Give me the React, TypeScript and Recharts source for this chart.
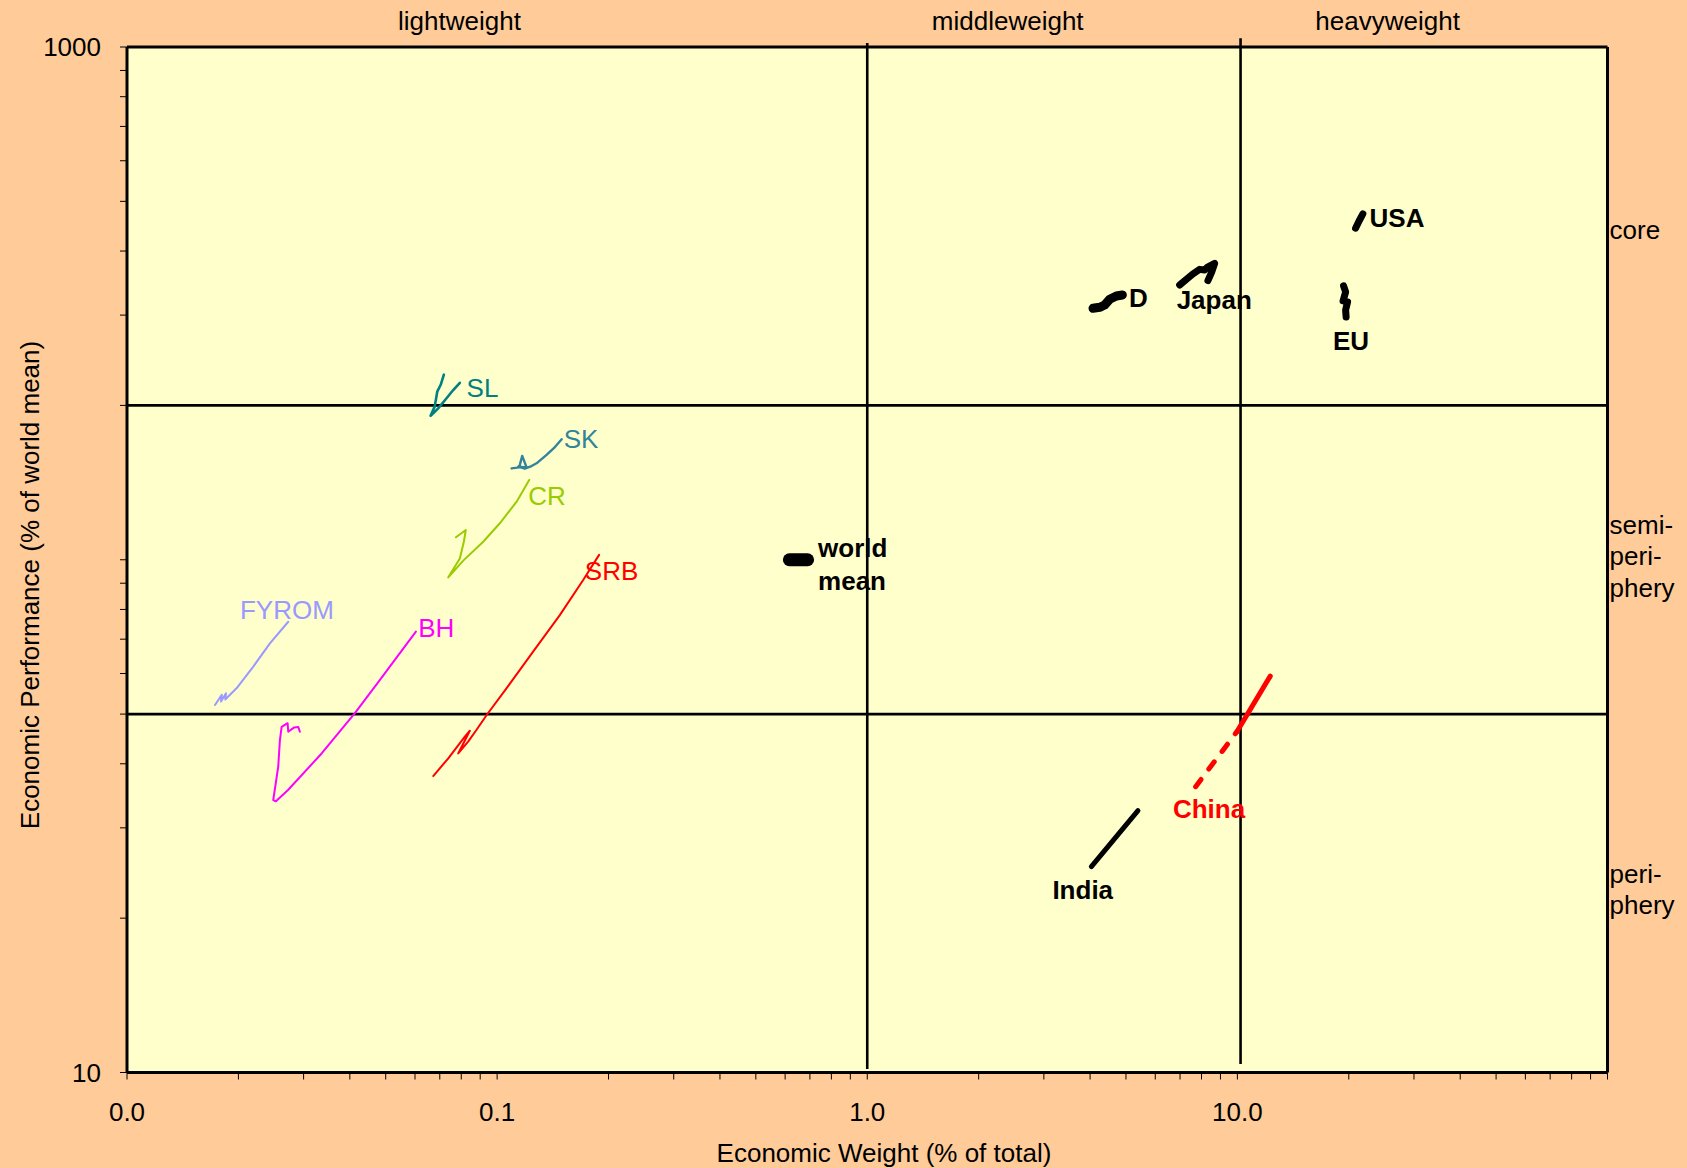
import React from 'react';
import {
  ScatterChart,
  Scatter,
  XAxis,
  YAxis,
  CartesianGrid,
  ReferenceLine,
  ReferenceDot,
} from 'recharts';

const FONT = '"Liberation Sans", Arial, Helvetica, sans-serif';

// ---- axis ticks ----
const xTicks = [
  0.01, 0.02, 0.03, 0.04, 0.05, 0.06, 0.07, 0.08, 0.09,
  0.1, 0.2, 0.3, 0.4, 0.5, 0.6, 0.7, 0.8, 0.9,
  1, 2, 3, 4, 5, 6, 7, 8, 9,
  10, 20, 30, 40, 50, 60, 70, 80, 90, 100,
];
const yTicks = [
  10, 20, 30, 40, 50, 60, 70, 80, 90,
  100, 200, 300, 400, 500, 600, 700, 800, 900, 1000,
];
const xTickValues = [0.01, 0.1, 1, 10];
const xTickTexts = ['0.0', '0.1', '1.0', '10.0'];
const yTickValues = [10, 1000];
const yTickTexts = ['10', '1000'];

// ---- trajectories: x = economic weight (% of total), y = performance (% of world mean) ----
const SL = [
  { x: 0.0718, y: 229.6 }, { x: 0.0704, y: 219.4 }, { x: 0.0689, y: 212.7 },
  { x: 0.0683, y: 204.9 }, { x: 0.0678, y: 198.9 }, { x: 0.0661, y: 190.9 },
  { x: 0.0672, y: 193.0 }, { x: 0.0693, y: 197.4 }, { x: 0.073, y: 206.5 },
  { x: 0.0761, y: 214.3 }, { x: 0.0793, y: 221.4 },
];
const SK = [
  { x: 0.1094, y: 150.7 }, { x: 0.1147, y: 151.4 }, { x: 0.1169, y: 159.4 },
  { x: 0.1201, y: 151.4 }, { x: 0.114, y: 151.9 }, { x: 0.1188, y: 150.5 },
  { x: 0.1239, y: 152.3 }, { x: 0.1278, y: 154.2 }, { x: 0.136, y: 160.1 },
  { x: 0.1423, y: 165.0 }, { x: 0.1494, y: 171.8 },
];
const CR = [
  { x: 0.0774, y: 110.6 }, { x: 0.0823, y: 114.3 }, { x: 0.0813, y: 108.4 },
  { x: 0.0793, y: 100.6 }, { x: 0.0738, y: 92.4 }, { x: 0.081, y: 99.6 },
  { x: 0.0917, y: 108.4 }, { x: 0.1017, y: 117.8 }, { x: 0.1129, y: 129.8 },
  { x: 0.1221, y: 143.1 },
];
const SRB = [
  { x: 0.0672, y: 37.86 }, { x: 0.0738, y: 41.0 }, { x: 0.0818, y: 45.2 },
  { x: 0.0844, y: 46.4 }, { x: 0.0785, y: 41.9 }, { x: 0.0835, y: 44.2 },
  { x: 0.088, y: 46.6 }, { x: 0.0937, y: 49.8 }, { x: 0.1061, y: 56.2 },
  { x: 0.1251, y: 66.2 }, { x: 0.1477, y: 78.0 }, { x: 0.1708, y: 91.3 },
  { x: 0.1886, y: 102.2 },
];
const FYROM = [
  { x: 0.01729, y: 52.1 }, { x: 0.01803, y: 54.5 }, { x: 0.01795, y: 52.9 },
  { x: 0.01851, y: 54.9 }, { x: 0.01843, y: 53.4 }, { x: 0.01979, y: 56.2 },
  { x: 0.02194, y: 61.9 }, { x: 0.02433, y: 68.7 }, { x: 0.02727, y: 75.7 },
];
const BH = [
  { x: 0.02932, y: 46.2 }, { x: 0.02902, y: 47.2 }, { x: 0.0283, y: 47.1 },
  { x: 0.02727, y: 46.2 }, { x: 0.02716, y: 48.0 }, { x: 0.02617, y: 47.2 },
  { x: 0.02589, y: 44.5 }, { x: 0.02562, y: 39.5 }, { x: 0.02484, y: 34.0 },
  { x: 0.02526, y: 33.8 }, { x: 0.02727, y: 35.6 }, { x: 0.03356, y: 41.9 },
  { x: 0.04128, y: 50.2 }, { x: 0.04824, y: 58.3 }, { x: 0.06033, y: 72.4 },
];
const D = [
  { x: 4.073, y: 309.3 }, { x: 4.246, y: 310.7 }, { x: 4.38, y: 313.9 },
  { x: 4.519, y: 322.1 }, { x: 4.711, y: 326.9 }, { x: 4.89, y: 328.4 },
];
const JAPAN = [
  { x: 6.983, y: 343.5 }, { x: 7.571, y: 360.7 }, { x: 7.907, y: 368.4 },
  { x: 8.156, y: 367.3 }, { x: 8.31, y: 372.3 }, { x: 8.683, y: 378.6 },
  { x: 8.522, y: 364.0 }, { x: 8.326, y: 350.2 },
];
const USA = [{ x: 20.86, y: 443.2 }, { x: 21.32, y: 457.8 }, { x: 21.83, y: 472.5 }];
const EU = [
  { x: 19.36, y: 342.0 }, { x: 19.61, y: 332.9 }, { x: 19.3, y: 319.7 },
  { x: 19.85, y: 318.3 }, { x: 19.61, y: 306.9 }, { x: 19.67, y: 297.4 },
];
const WORLD = [{ x: 0.616, y: 100 }, { x: 0.69, y: 100 }];
const INDIA = [{ x: 4.032, y: 25.2 }, { x: 5.387, y: 32.4 }];
const CHINA_DASHED = [{ x: 7.713, y: 36.1 }, { x: 9.97, y: 46.2 }];
const CHINA_SOLID = [{ x: 9.97, y: 46.2 }, { x: 12.27, y: 59.3 }];

const series = [
  { name: 'FYROM', data: FYROM, color: '#9999FF', width: 2 },
  { name: 'BH', data: BH, color: '#FF00FF', width: 2 },
  { name: 'SRB', data: SRB, color: '#FF0000', width: 2 },
  { name: 'CR', data: CR, color: '#99CC00', width: 2 },
  { name: 'SK', data: SK, color: '#31849B', width: 2.4 },
  { name: 'SL', data: SL, color: '#008080', width: 2.6 },
  { name: 'world', data: WORLD, color: '#000000', width: 13 },
  { name: 'D', data: D, color: '#000000', width: 9 },
  { name: 'Japan', data: JAPAN, color: '#000000', width: 7 },
  { name: 'USA', data: USA, color: '#000000', width: 7 },
  { name: 'EU', data: EU, color: '#000000', width: 7 },
  { name: 'India', data: INDIA, color: '#000000', width: 5 },
  { name: 'ChinaDashed', data: CHINA_DASHED, color: '#FF0000', width: 5, dash: '9 13' },
  { name: 'ChinaSolid', data: CHINA_SOLID, color: '#FF0000', width: 5 },
];

// ---- text annotations (anchored at data coordinates) ----
const labels = [
  { text: 'SL', x: 0.0827, y: 208.0, color: '#008080', bold: false, anchor: 'start' },
  { text: 'SK', x: 0.1514, y: 165.0, color: '#31849B', bold: false, anchor: 'start' },
  { text: 'CR', x: 0.1213, y: 127.9, color: '#99CC00', bold: false, anchor: 'start' },
  { text: 'SRB', x: 0.1726, y: 91.3, color: '#FF0000', bold: false, anchor: 'start' },
  { text: 'FYROM', x: 0.02019, y: 76.5, color: '#9999FF', bold: false, anchor: 'start' },
  { text: 'BH', x: 0.0612, y: 70.6, color: '#FF00FF', bold: false, anchor: 'start' },
  { text: 'D', x: 5.094, y: 310.5, color: '#000000', bold: true, anchor: 'start' },
  { text: 'Japan', x: 6.853, y: 308.5, color: '#000000', bold: true, anchor: 'start' },
  { text: 'USA', x: 22.76, y: 445.6, color: '#000000', bold: true, anchor: 'start' },
  { text: 'EU', x: 18.12, y: 256.6, color: '#000000', bold: true, anchor: 'start' },
  { text: 'world', x: 0.7364, y: 101.1, color: '#000000', bold: true, anchor: 'start' },
  { text: 'mean', x: 0.7364, y: 87.3, color: '#000000', bold: true, anchor: 'start' },
  { text: 'India', x: 3.164, y: 21.77, color: '#000000', bold: true, anchor: 'start' },
  { text: 'China', x: 6.698, y: 31.3, color: '#FF0000', bold: true, anchor: 'start' },
  // weight classes (top)
  { text: 'lightweight', x: 0.0791, y: 1079, color: '#000000', bold: false, anchor: 'middle' },
  { text: 'middleweight', x: 2.396, y: 1079, color: '#000000', bold: false, anchor: 'middle' },
  { text: 'heavyweight', x: 25.46, y: 1079, color: '#000000', bold: false, anchor: 'middle' },
  // world-system zones (right)
  { text: 'core', x: 101.3, y: 422.3, color: '#000000', bold: false, anchor: 'start' },
  { text: 'semi-', x: 101.3, y: 112.2, color: '#000000', bold: false, anchor: 'start' },
  { text: 'peri-', x: 101.3, y: 97.7, color: '#000000', bold: false, anchor: 'start' },
  { text: 'phery', x: 101.3, y: 84.6, color: '#000000', bold: false, anchor: 'start' },
  { text: 'peri-', x: 101.3, y: 23.42, color: '#000000', bold: false, anchor: 'start' },
  { text: 'phery', x: 101.3, y: 20.38, color: '#000000', bold: false, anchor: 'start' },
];

const fmtX = (v: number) => {
  const i = xTickValues.findIndex((t) => Math.abs(t - v) < 1e-9);
  return i >= 0 ? xTickTexts[i] : '';
};
const fmtY = (v: number) => {
  const i = yTickValues.findIndex((t) => Math.abs(t - v) < 1e-9);
  return i >= 0 ? yTickTexts[i] : '';
};

const Nothing = () => <g />;

const renderXTitle = () => (
  <text x={884} y={1161.5} textAnchor="middle" fontSize={26} fill="#000" fontFamily={FONT}>
    Economic Weight (% of total)
  </text>
);
const renderYTitle = () => (
  <text
    x={39}
    y={585}
    transform="rotate(-90, 39, 585)"
    textAnchor="middle"
    fontSize={26}
    fill="#000"
    fontFamily={FONT}
  >
    Economic Performance (% of world mean)
  </text>
);

const makeLabelShape = (l: (typeof labels)[number]) => (p: any) => (
  <text
    x={p.cx}
    y={p.cy}
    fill={l.color}
    fontSize={26}
    fontFamily={FONT}
    fontWeight={l.bold ? 'bold' : 'normal'}
    textAnchor={l.anchor as any}
  >
    {l.text}
  </text>
);

export default function App() {
  return (
    <div
      style={{
        position: 'absolute',
        left: 0,
        top: 0,
        width: 1687,
        height: 1168,
        background: '#FFCC99',
        fontFamily: FONT,
      }}
    >
      <ScatterChart width={1687} height={1168} margin={{ top: 47, right: 79.5, bottom: 0, left: 0 }}>
        <CartesianGrid horizontal={false} vertical={false} fill="#FFFFCC" fillOpacity={1} stroke="none" />
        <XAxis
          type="number"
          dataKey="x"
          scale="log"
          domain={[0.01, 100]}
          allowDataOverflow
          ticks={xTicks}
          interval={0}
          tickFormatter={fmtX}
          tick={{ fill: '#000', fontSize: 26 }}
          tickSize={7}
          tickMargin={23.5}
          height={95.5}
          axisLine={{ stroke: '#000', strokeWidth: 3 }}
          tickLine={{ stroke: '#000', strokeWidth: 1 }}
          label={renderXTitle}
        />
        <YAxis
          type="number"
          dataKey="y"
          scale="log"
          domain={[10, 1000]}
          allowDataOverflow
          ticks={yTicks}
          interval={0}
          tickFormatter={fmtY}
          tick={{ fill: '#000', fontSize: 26 }}
          tickSize={7}
          tickMargin={19}
          width={127}
          axisLine={{ stroke: '#000', strokeWidth: 3 }}
          tickLine={{ stroke: '#000', strokeWidth: 1 }}
          label={renderYTitle}
        />
        <ReferenceLine y={1000} stroke="#000" strokeWidth={3} />
        <ReferenceLine x={100} stroke="#000" strokeWidth={3} />
        <ReferenceLine y={200} stroke="#000" strokeWidth={2.6} />
        <ReferenceLine y={50} stroke="#000" strokeWidth={2.6} />
        <ReferenceLine
          segment={[{ x: 1, y: 10.16 }, { x: 1, y: 1018 }]}
          ifOverflow="visible"
          stroke="#000"
          strokeWidth={2.6}
        />
        <ReferenceLine
          segment={[{ x: 10.2, y: 10.39 }, { x: 10.2, y: 1040 }]}
          ifOverflow="visible"
          stroke="#000"
          strokeWidth={2.6}
        />
        {series.map((s) => (
          <Scatter
            key={s.name}
            name={s.name}
            data={s.data}
            line={{
              stroke: s.color,
              strokeWidth: s.width,
              strokeLinecap: 'round',
              strokeLinejoin: 'round',
              strokeDasharray: (s as any).dash,
            }}
            lineType="joint"
            shape={Nothing}
            isAnimationActive={false}
          />
        ))}
        {labels.map((l, i) => (
          <ReferenceDot
            key={'lab' + i}
            x={l.x}
            y={l.y}
            r={0}
            ifOverflow="visible"
            shape={makeLabelShape(l)}
          />
        ))}
      </ScatterChart>
    </div>
  );
}
